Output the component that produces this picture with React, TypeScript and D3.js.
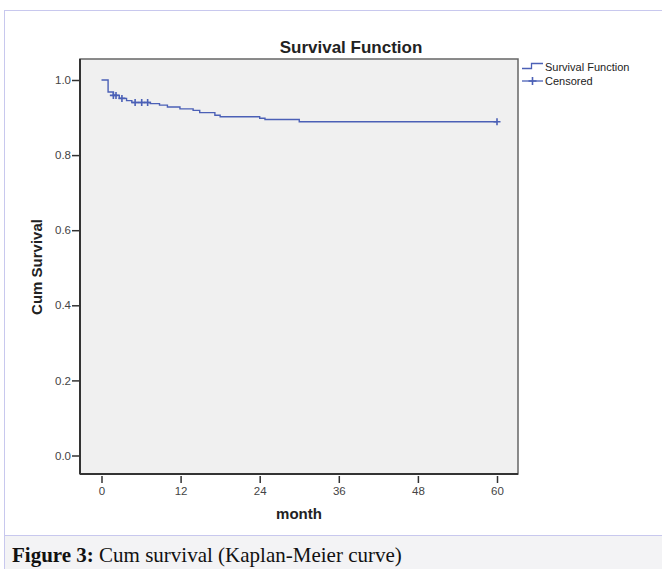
import React, { useEffect, useRef } from "react";
import * as d3 from "d3";

// Kaplan-Meier steps: month of event, survival after it
const eventMonths = [1.0, 1.8, 2.7, 3.8, 4.6, 7.4, 8.8, 10.0, 11.9, 13.9, 14.9, 17.2, 18.0, 24.0, 24.8, 30.0];
const survival = [0.968, 0.959, 0.951, 0.945, 0.94, 0.937, 0.933, 0.928, 0.923, 0.919, 0.913, 0.906, 0.902, 0.898, 0.895, 0.889];
const censoredMonths = [1.8, 2.2, 3.1, 5.1, 6.1, 7.0, 60];
const xTicks = [0, 12, 24, 36, 48, 60];
const yTicks = [0, 0.2, 0.4, 0.6, 0.8, 1.0];

const W = 662;
const H = 569;
const lineColor = "#4b60b6";

const App = () => {
  const svgRef = useRef<SVGSVGElement>(null);

  useEffect(() => {
    document.body.style.margin = "0";
    const svg = d3.select(svgRef.current);
    svg.selectAll("*").remove();

    const plot = { left: 80, right: 518, top: 59, bottom: 474 };
    const x = d3.scaleLinear().domain([0, 60]).range([101.5, 497]);
    const y = d3.scaleLinear().domain([0, 1]).range([455.5, 80]);

    // outer page frame
    svg.append("rect").attr("x", 0).attr("y", 0).attr("width", W).attr("height", H).attr("fill", "#fff");
    svg.append("rect").attr("x", 5).attr("y", 536).attr("width", W).attr("height", H - 536).attr("fill", "#f3f3f5");
    svg.append("line").attr("x1", 4).attr("x2", W).attr("y1", 10.5).attr("y2", 10.5).attr("stroke", "#c8c8ee");
    svg.append("line").attr("x1", 4.5).attr("x2", 4.5).attr("y1", 10).attr("y2", H).attr("stroke", "#c8c8ee");
    svg.append("line").attr("x1", 4).attr("x2", W).attr("y1", 535.5).attr("y2", 535.5).attr("stroke", "#c8c8ee");

    // plot area
    svg
      .append("rect")
      .attr("x", plot.left)
      .attr("y", plot.top)
      .attr("width", plot.right - plot.left)
      .attr("height", plot.bottom - plot.top)
      .attr("fill", "#f0f0f0")
      .attr("stroke", "#666")
      .attr("stroke-width", 1.5);
    svg.append("line").attr("x1", plot.left).attr("x2", plot.left).attr("y1", plot.top).attr("y2", plot.bottom).attr("stroke", "#333").attr("stroke-width", 2);
    svg.append("line").attr("x1", plot.left).attr("x2", plot.right).attr("y1", plot.bottom).attr("y2", plot.bottom).attr("stroke", "#333").attr("stroke-width", 2);

    const font = "Liberation Sans, Arial, sans-serif";

    // y axis
    const yAxis = svg
      .append("g")
      .attr("transform", `translate(${plot.left - 1},0)`)
      .call(d3.axisLeft(y).tickValues(yTicks).tickFormat(d3.format(".1f")).tickSize(7).tickPadding(1));
    yAxis.select(".domain").remove();
    yAxis.selectAll("line").attr("stroke", "#333").attr("stroke-width", 1.5);
    yAxis.selectAll("text").attr("font-family", font).attr("font-size", 11.5).attr("fill", "#444");

    // x axis
    const xAxis = svg
      .append("g")
      .attr("transform", `translate(0,${plot.bottom + 2})`)
      .call(d3.axisBottom(x).tickValues(xTicks).tickSize(7).tickPadding(4));
    xAxis.select(".domain").remove();
    xAxis.selectAll("line").attr("stroke", "#333").attr("stroke-width", 1.5);
    xAxis.selectAll("text").attr("font-family", font).attr("font-size", 11.5).attr("fill", "#444");

    // titles
    svg
      .append("text")
      .attr("x", 351)
      .attr("y", 52.5)
      .attr("text-anchor", "middle")
      .attr("font-family", font)
      .attr("font-weight", "bold")
      .attr("font-size", 17)
      .attr("fill", "#222")
      .text("Survival Function");
    svg
      .append("text")
      .attr("x", 299)
      .attr("y", 519)
      .attr("text-anchor", "middle")
      .attr("font-family", font)
      .attr("font-weight", "bold")
      .attr("font-size", 15)
      .attr("fill", "#222")
      .text("month");
    svg
      .append("text")
      .attr("transform", "translate(42,267) rotate(-90)")
      .attr("text-anchor", "middle")
      .attr("font-family", font)
      .attr("font-weight", "bold")
      .attr("font-size", 15)
      .attr("fill", "#222")
      .text("Cum Survival");

    // survival curve
    const pts: [number, number][] = [[0, 1]];
    eventMonths.forEach((t, i) => pts.push([t, survival[i]]));
    pts.push([60, survival[survival.length - 1]]);
    const line = d3
      .line<[number, number]>()
      .x((d) => x(d[0]))
      .y((d) => y(d[1]))
      .curve(d3.curveStepAfter);
    svg
      .append("path")
      .datum(pts)
      .attr("d", line)
      .attr("fill", "none")
      .attr("stroke", lineColor)
      .attr("stroke-width", 1.4);

    const survAt = (t: number) => {
      let s = 1;
      eventMonths.forEach((e, i) => {
        if (e <= t) s = survival[i];
      });
      return s;
    };
    const plus = (g: any, cx: number, cy: number, r: number) => {
      g.append("path")
        .attr("d", `M${cx - r},${cy}H${cx + r}M${cx},${cy - r}V${cy + r}`)
        .attr("stroke", lineColor)
        .attr("stroke-width", 1.6)
        .attr("fill", "none");
    };
    censoredMonths.forEach((t) => plus(svg, x(t), y(survAt(t)), 3.5));

    // legend
    const lg = svg.append("g");
    lg.append("path")
      .attr("d", "M522,68.5H531.5V63.5H543")
      .attr("fill", "none")
      .attr("stroke", lineColor)
      .attr("stroke-width", 1.3);
    lg.append("path")
      .attr("d", "M522,81H543")
      .attr("fill", "none")
      .attr("stroke", lineColor)
      .attr("stroke-width", 1.3);
    plus(lg, 532.5, 81, 4);
    lg.append("text").attr("x", 545).attr("y", 71).attr("font-family", font).attr("font-size", 11).attr("fill", "#222").text("Survival Function");
    lg.append("text").attr("x", 545).attr("y", 85).attr("font-family", font).attr("font-size", 11).attr("fill", "#222").text("Censored");

    // caption
    const cap = svg
      .append("text")
      .attr("x", 12)
      .attr("y", 561.5)
      .attr("font-family", "Liberation Serif, Times New Roman, serif")
      .attr("font-size", 21)
      .attr("fill", "#111");
    cap.append("tspan").attr("font-weight", "bold").text("Figure 3:");
    cap.append("tspan").text(" Cum survival (Kaplan-Meier curve)");
  }, []);

  return <svg ref={svgRef} width={W} height={H} style={{ display: "block" }} />;
};

export default App;
